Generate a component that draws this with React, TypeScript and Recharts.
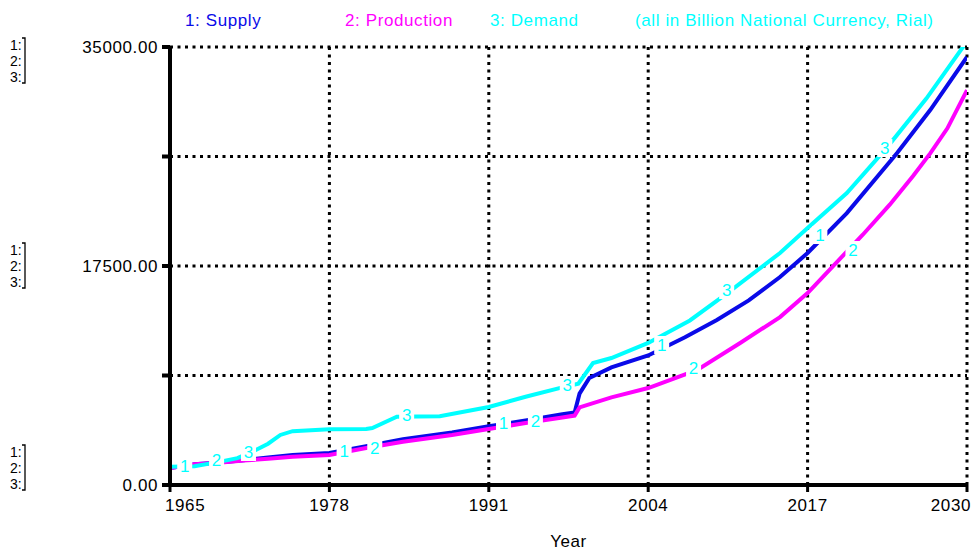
import React from 'react';
import { LineChart, Line, XAxis, YAxis, CartesianGrid } from 'recharts';

const FONT = '"Liberation Sans", Arial, Helvetica, sans-serif';

const BLUE = '#0a0ae8';
const MAGENTA = '#ff00ff';
const CYAN = '#00ffff';

// Axis ticks
const YEAR_TICKS = [1965, 1978, 1991, 2004, 2017, 2030];
const VALUE_TICKS = [0, 8750, 17500, 26250, 35000];
const LABELED_VALUE_TICKS = [0, 17500, 35000];

// 1: Supply
const supplyYears = [1965, 1967, 1969, 1971, 1973, 1975, 1978, 1981, 1984, 1988, 1991, 1994, 1997, 1998, 1998.4, 1999.2, 2001, 2004, 2007, 2009.6, 2012.2, 2014.75, 2017, 2020.2, 2024.3, 2027, 2030];
const supplyValues = [1350, 1650, 1800, 1980, 2200, 2400, 2550, 3100, 3650, 4200, 4700, 5150, 5650, 5800, 7300, 8550, 9400, 10350, 11800, 13180, 14750, 16620, 18540, 21730, 26530, 29960, 34200];

// 2: Production
const productionYears = [1965, 1967, 1969, 1971, 1973, 1975, 1978, 1981, 1984, 1988, 1991, 1994, 1997, 1998, 1998.4, 2001, 2004, 2008, 2011.5, 2014.75, 2017, 2021.5, 2023.7, 2025.6, 2027, 2028.4, 2030];
const productionValues = [1350, 1650, 1780, 1950, 2100, 2250, 2400, 2950, 3450, 4000, 4480, 4950, 5400, 5550, 6200, 7000, 7750, 9190, 11350, 13420, 15340, 20000, 22400, 24700, 26500, 28500, 31560];

// 3: Demand
const demandYears = [1965, 1967, 1969, 1970.5, 1972, 1973, 1974, 1975, 1978, 1981, 1981.5, 1983.5, 1987, 1991, 1994, 1997, 1998.3, 1999.5, 2001, 2004, 2007.4, 2010.4, 2014.75, 2017, 2020.2, 2023.5, 2026.7, 2030];
const demandValues = [1450, 1500, 1850, 2150, 2800, 3300, 4000, 4300, 4450, 4480, 4550, 5450, 5500, 6230, 7050, 7800, 8100, 9750, 10150, 11350, 13150, 15300, 18540, 20530, 23330, 27000, 30900, 35450];

// Series number labels placed on the curves
const supplyLabelYears = [1966.2, 1979.2, 1992.2, 2005.1, 2018.0];
const supplyLabelValues = [1518, 2717, 4954, 11186, 19975];
const productionLabelYears = [1968.8, 1981.7, 1994.8, 2007.7, 2020.7];
const productionLabelValues = [1998, 2956, 5114, 9348, 18777];
const demandLabelYears = [1971.4, 1984.3, 1997.4, 2010.4, 2023.3];
const demandLabelValues = [2637, 5593, 7990, 15580, 26926];

const legendItems = [
  { text: '1: Supply', color: BLUE },
  { text: '2: Production', color: MAGENTA },
  { text: '3: Demand', color: CYAN },
  { text: '(all in Billion National Currency, Rial)', color: CYAN },
];
const legendX = [185, 345, 490, 635];

const zip = (xs: number[], ys: number[]) => xs.map((year, i) => ({ year, v: ys[i] }));

const supplyData = zip(supplyYears, supplyValues);
const productionData = zip(productionYears, productionValues);
const demandData = zip(demandYears, demandValues);
const supplyLabels = zip(supplyLabelYears, supplyLabelValues);
const productionLabels = zip(productionLabelYears, productionLabelValues);
const demandLabels = zip(demandLabelYears, demandLabelValues);

const makeLabelDot = (num: string) => (p: any) => {
  const { cx, cy, index } = p;
  if (cx == null || cy == null) return <g key={`e${num}-${index}`} />;
  return (
    <g key={`l${num}-${index}`}>
      <rect x={cx - 7.5} y={cy - 9} width={15} height={18} fill="#fff" />
      <text x={cx} y={cy} dy="0.36em" textAnchor="middle" fill={CYAN} style={{ fontSize: 17, fontFamily: FONT }}>
        {num}
      </text>
    </g>
  );
};

const XTick = (props: any) => {
  const { x, y, payload } = props;
  const v = payload?.value;
  const first = v === YEAR_TICKS[0];
  const last = v === YEAR_TICKS[YEAR_TICKS.length - 1];
  const anchor = first ? 'start' : last ? 'end' : 'middle';
  const dx = first ? -5 : last ? 4 : 0;
  return (
    <text x={x + dx} y={y} dy="0.71em" textAnchor={anchor} fill="#000" style={{ fontSize: 17, letterSpacing: 0.6, fontFamily: FONT }}>
      {String(v)}
    </text>
  );
};

const YTick = (props: any) => {
  const { x, y, payload } = props;
  const v = payload?.value;
  if (!LABELED_VALUE_TICKS.includes(v)) return <g />;
  let offsets: number[];
  if (v === 35000) offsets = [-2, 14, 30];
  else if (v === 17500) offsets = [-16, 0, 16];
  else offsets = [-33, -17, -1];
  const top = y + offsets[0] - 7;
  const bottom = y + offsets[2] + 6;
  return (
    <g>
      <text x={x} y={y} dy="0.355em" textAnchor="end" fill="#000" style={{ fontSize: 17, letterSpacing: 0.6, fontFamily: FONT }}>
        {v.toFixed(2)}
      </text>
      {['1:', '2:', '3:'].map((s, i) => (
        <text key={s} x={10} y={y + offsets[i]} dy="0.355em" textAnchor="start" fill="#000" style={{ fontSize: 14, fontFamily: FONT }}>
          {s}
        </text>
      ))}
      <path d={`M22 ${top} L25 ${top} L25 ${bottom} L22 ${bottom}`} stroke="#000" strokeWidth={1.3} fill="none" />
    </g>
  );
};

export default function App() {
  return (
    <div style={{ position: 'absolute', left: 0, top: 0, width: 978, height: 550, background: '#fff', fontFamily: FONT }}>
      <LineChart width={978} height={550} margin={{ top: 47, right: 11, bottom: 0, left: 0 }}>
        <CartesianGrid stroke="#000" strokeWidth={3} strokeDasharray="3 4.5" />
        <XAxis
          type="number"
          dataKey="year"
          domain={[1965, 2030]}
          ticks={YEAR_TICKS}
          interval={0}
          height={65}
          allowDataOverflow
          axisLine={{ stroke: '#000', strokeWidth: 4 }}
          tickLine={{ stroke: '#000', strokeWidth: 3 }}
          tickSize={7}
          tickMargin={7}
          tick={<XTick />}
          label={{ value: 'Year', position: 'insideBottom', offset: 3, fill: '#000', fontSize: 17, fontFamily: FONT, letterSpacing: 0.6 }}
        />
        <YAxis
          type="number"
          dataKey="v"
          domain={[0, 35000]}
          ticks={VALUE_TICKS}
          interval={0}
          width={170}
          allowDataOverflow
          axisLine={{ stroke: '#000', strokeWidth: 4 }}
          tickLine={{ stroke: '#000', strokeWidth: 4 }}
          tickSize={8}
          tickMargin={4}
          tick={<YTick />}
        />
        <Line data={supplyData} dataKey="v" type="linear" stroke={BLUE} strokeWidth={4} dot={false} activeDot={false} isAnimationActive={false} />
        <Line data={productionData} dataKey="v" type="linear" stroke={MAGENTA} strokeWidth={4} dot={false} activeDot={false} isAnimationActive={false} />
        <Line data={demandData} dataKey="v" type="linear" stroke={CYAN} strokeWidth={4} dot={false} activeDot={false} isAnimationActive={false} />
        <Line data={supplyLabels} dataKey="v" stroke="none" dot={makeLabelDot('1')} activeDot={false} isAnimationActive={false} />
        <Line data={productionLabels} dataKey="v" stroke="none" dot={makeLabelDot('2')} activeDot={false} isAnimationActive={false} />
        <Line data={demandLabels} dataKey="v" stroke="none" dot={makeLabelDot('3')} activeDot={false} isAnimationActive={false} />
      </LineChart>
      <svg width={978} height={40} style={{ position: 'absolute', left: 0, top: 0, pointerEvents: 'none' }}>
        {legendItems.map((it, i) => (
          <text key={it.text} x={legendX[i]} y={26} fill={it.color} style={{ fontSize: 17, letterSpacing: 0.6, fontFamily: FONT }}>
            {it.text}
          </text>
        ))}
      </svg>
    </div>
  );
}
